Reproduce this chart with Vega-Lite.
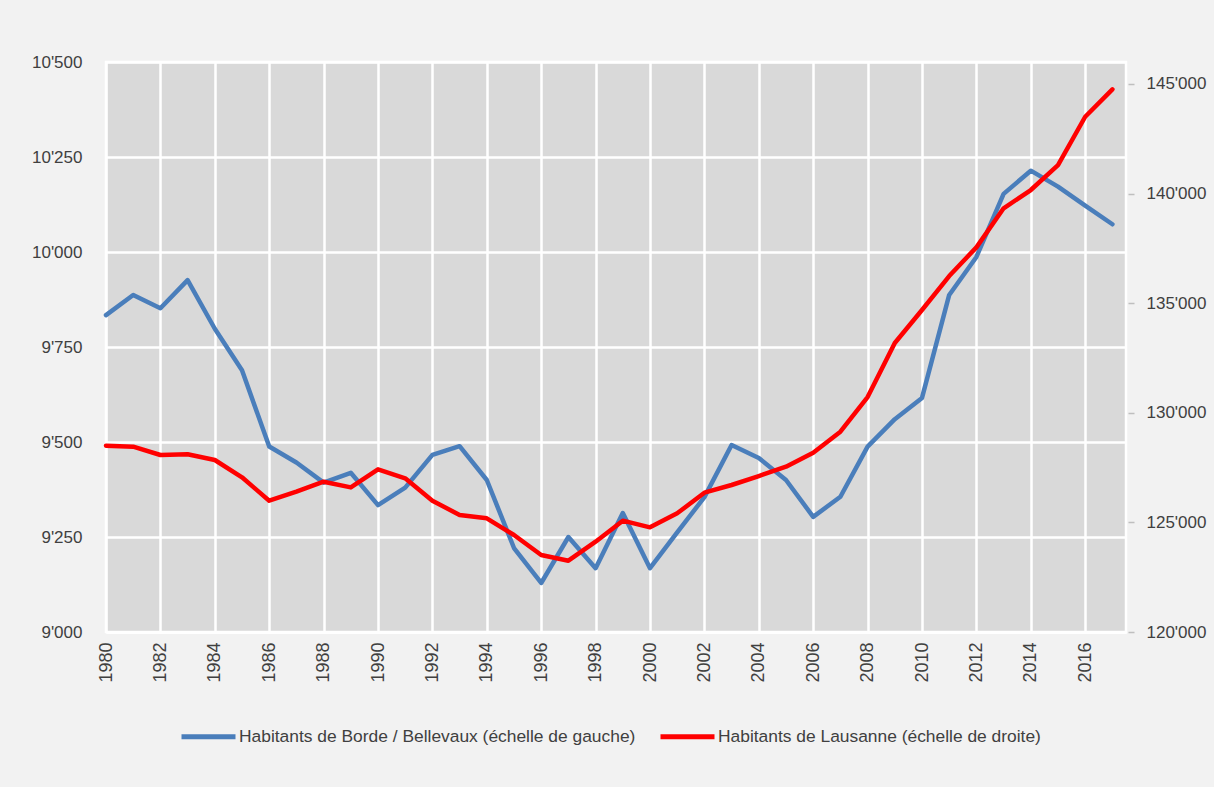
{
  "$schema": "https://vega.github.io/schema/vega-lite/v6.json",
  "autosize": {"type": "none"},
  "width": 1020,
  "height": 570,
  "padding": {"left": 106, "top": 62, "right": 88, "bottom": 155},
  "background": "#f2f2f2",
  "config": {
    "view": {"fill": "#d9d9d9", "stroke": "#ffffff", "strokeWidth": 2.5},
    "font": "Liberation Sans, Arial, sans-serif",
    "axis": {
      "labelFont": "Liberation Sans, Arial, sans-serif",
      "labelFontSize": 17,
      "labelColor": "#404040",
      "gridColor": "#ffffff",
      "gridWidth": 2.5,
      "gridOpacity": 1,
      "domain": false,
      "ticks": false,
      "title": null
    },
    "legend": {
      "labelFont": "Liberation Sans, Arial, sans-serif",
      "labelFontSize": 17.4,
      "labelColor": "#404040"
    }
  },
  "data": {
    "values": [
      {"year": 1980, "borde": 9834, "lausanne": 128498},
      {"year": 1981, "borde": 9887, "lausanne": 128452},
      {"year": 1982, "borde": 9852, "lausanne": 128073},
      {"year": 1983, "borde": 9926, "lausanne": 128105},
      {"year": 1984, "borde": 9798, "lausanne": 127845},
      {"year": 1985, "borde": 9689, "lausanne": 127056},
      {"year": 1986, "borde": 9488, "lausanne": 125989},
      {"year": 1987, "borde": 9446, "lausanne": 126399},
      {"year": 1988, "borde": 9393, "lausanne": 126855},
      {"year": 1989, "borde": 9419, "lausanne": 126597},
      {"year": 1990, "borde": 9334, "lausanne": 127421},
      {"year": 1991, "borde": 9380, "lausanne": 127010},
      {"year": 1992, "borde": 9466, "lausanne": 125989},
      {"year": 1993, "borde": 9489, "lausanne": 125337},
      {"year": 1994, "borde": 9400, "lausanne": 125186},
      {"year": 1995, "borde": 9221, "lausanne": 124424},
      {"year": 1996, "borde": 9129, "lausanne": 123512},
      {"year": 1997, "borde": 9250, "lausanne": 123253},
      {"year": 1998, "borde": 9168, "lausanne": 124119},
      {"year": 1999, "borde": 9313, "lausanne": 125078},
      {"year": 2000, "borde": 9168, "lausanne": 124774},
      {"year": 2001, "borde": 9262, "lausanne": 125413},
      {"year": 2002, "borde": 9355, "lausanne": 126354},
      {"year": 2003, "borde": 9492, "lausanne": 126705},
      {"year": 2004, "borde": 9458, "lausanne": 127115},
      {"year": 2005, "borde": 9400, "lausanne": 127540},
      {"year": 2006, "borde": 9303, "lausanne": 128178},
      {"year": 2007, "borde": 9356, "lausanne": 129136},
      {"year": 2008, "borde": 9488, "lausanne": 130718},
      {"year": 2009, "borde": 9560, "lausanne": 133181},
      {"year": 2010, "borde": 9616, "lausanne": 134686},
      {"year": 2011, "borde": 9887, "lausanne": 136237},
      {"year": 2012, "borde": 9987, "lausanne": 137546},
      {"year": 2013, "borde": 10153, "lausanne": 139325},
      {"year": 2014, "borde": 10214, "lausanne": 140160},
      {"year": 2015, "borde": 10172, "lausanne": 141300},
      {"year": 2016, "borde": 10122, "lausanne": 143503},
      {"year": 2017, "borde": 10073, "lausanne": 144753}
    ]
  },
  "encoding": {
    "x": {
      "field": "year",
      "type": "quantitative",
      "scale": {"domain": [1980, 2017.5], "nice": false, "zero": false},
      "axis": {
        "values": [1980, 1982, 1984, 1986, 1988, 1990, 1992, 1994, 1996, 1998, 2000, 2002, 2004, 2006, 2008, 2010, 2012, 2014, 2016],
        "format": "d",
        "labelAngle": -90,
        "labelPadding": 10,
        "labelAlign": "right",
        "labelBaseline": "middle",
        "labelFontSize": 18,
        "domain": true,
        "domainColor": "#ffffff",
        "domainWidth": 3,
        "labelFlush": false,
        "labelOverlap": false
      }
    }
  },
  "layer": [
    {
      "mark": {"type": "line", "strokeWidth": 4.5, "strokeCap": "round", "strokeJoin": "round"},
      "encoding": {
        "y": {
          "field": "borde",
          "type": "quantitative",
          "scale": {"domain": [9000, 10500], "nice": false, "zero": false},
          "axis": {
            "orient": "left",
            "values": [9000, 9250, 9500, 9750, 10000, 10250, 10500],
            "labelExpr": "replace(format(datum.value, ','), ',', \"'\")",
            "labelPadding": 24,
            "labelFlush": false
          }
        },
        "color": {
          "datum": "Habitants de Borde / Bellevaux (échelle de gauche)",
          "scale": {
            "domain": ["Habitants de Borde / Bellevaux (échelle de gauche)", "Habitants de Lausanne (échelle de droite)"],
            "range": ["#4a7ebb", "#ff0000"]
          },
          "legend": {
            "orient": "none",
            "legendX": 73,
            "legendY": 645,
            "direction": "horizontal",
            "title": null,
            "symbolType": "stroke",
            "symbolSize": 2916,
            "symbolStrokeWidth": 5,
            "labelOffset": 1,
            "columnPadding": 14,
            "labelLimit": 600
          }
        }
      }
    },
    {
      "mark": {"type": "line", "strokeWidth": 4.5, "strokeCap": "round", "strokeJoin": "round"},
      "encoding": {
        "y": {
          "field": "lausanne",
          "type": "quantitative",
          "scale": {"domain": [120000, 146000], "nice": false, "zero": false},
          "axis": {
            "orient": "right",
            "values": [120000, 125000, 130000, 135000, 140000, 145000],
            "labelExpr": "replace(format(datum.value, ','), ',', \"'\")",
            "grid": false,
            "ticks": true,
            "tickColor": "#bfbfbf",
            "tickWidth": 1.5,
            "tickSize": 6,
            "offset": 2,
            "labelPadding": 12,
            "labelFlush": false
          }
        },
        "color": {"datum": "Habitants de Lausanne (échelle de droite)"}
      }
    }
  ],
  "resolve": {"scale": {"y": "independent"}}
}
